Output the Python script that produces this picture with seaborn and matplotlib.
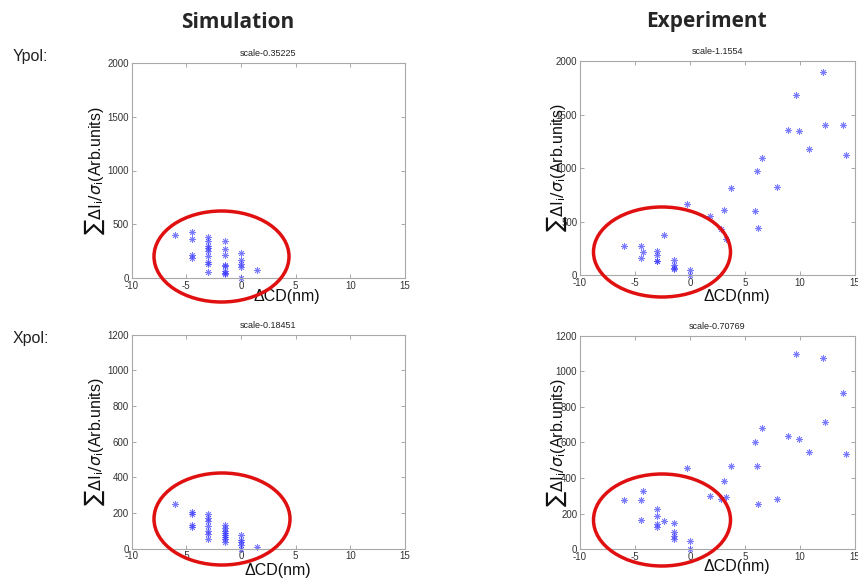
import matplotlib
matplotlib.use("Agg")
import matplotlib.pyplot as plt
from matplotlib.patches import Ellipse
import seaborn as sns

# ---------------- data ----------------
x_ticks = [-10, -5, 0, 5, 10, 15]
y_ticks_ypol = [0, 500, 1000, 1500, 2000]
y_ticks_xpol = [0, 200, 400, 600, 800, 1000, 1200]

sim_ypol_x = [-6,
              -4.5, -4.5, -4.5, -4.5,
              -3, -3, -3, -3, -3, -3, -3, -3, -3,
              -1.5, -1.5, -1.5, -1.5, -1.5, -1.5, -1.5, -1.5,
              0, 0, 0, 0, 0,
              1.5]
sim_ypol_y = [400,
              430, 365, 210, 185,
              385, 340, 300, 280, 250, 205, 150, 130, 60,
              345, 270, 215, 120, 110, 65, 50, 40,
              230, 165, 130, 100, 0,
              70]

sim_xpol_x = [-6,
              -4.5, -4.5, -4.5, -4.5,
              -3, -3, -3, -3, -3, -3, -3,
              -1.5, -1.5, -1.5, -1.5, -1.5, -1.5, -1.5, -1.5,
              0, 0, 0, 0, 0,
              1.5]
sim_xpol_y = [250,
              205, 195, 135, 120,
              195, 170, 155, 125, 100, 80, 55,
              135, 115, 100, 90, 75, 65, 55, 40,
              75, 50, 35, 20, 0,
              10]

exp_x = [-6.0, -4.5, -4.25, -4.5, -2.4,
         -3, -3, -3, -3,
         -1.5, -1.5, -1.5, -1.5,
         0, 0,
         -0.25, 1.8, 2.8, 3.1, 3.3, 3.7,
         5.95, 6.05, 6.2, 6.55,
         7.9, 8.9, 9.65, 9.9, 10.8,
         12.05, 12.25, 13.9, 14.15]
exp_ypol_y = [277, 277, 215, 165, 379,
              230, 187, 134, 130,
              146, 93, 72, 62,
              50, 0,
              669, 553, 429, 613, 339, 818,
              603, 977, 445, 1098,
              827, 1359, 1679, 1350, 1176,
              1897, 1403, 1400, 1120]
exp_xpol_y = [275, 279, 326, 165, 161,
              226, 187, 142, 127,
              146, 97, 75, 60,
              49, 0,
              455, 301, 281, 384, 296, 468,
              605, 468, 255, 683,
              281, 636, 1097, 618, 547,
              1076, 713, 876, 535]

scale_titles = ["scale-0.35225", "scale-1.1554", "scale-0.18451", "scale-0.70769"]
col_titles = ["Simulation", "Experiment"]
row_titles = ["Ypol:", "Xpol:"]
x_label = "ΔCD(nm)"
y_label = r"$\sum\Delta\mathrm{I}_\mathrm{i}/\sigma_\mathrm{i}$(Arb.units)"

# ---------------- figure ----------------
sns.set_theme(style="white")
plt.rcParams["font.family"] = ["Liberation Sans", "DejaVu Sans"]
plt.rcParams["axes.unicode_minus"] = False

W, H = 858, 578
fig = plt.figure(figsize=(W / 100, H / 100), dpi=100)

def px_axes(left, top, right, bottom):
    return fig.add_axes([left / W, 1 - bottom / H, (right - left) / W, (bottom - top) / H])

panels = [
    dict(box=(131.7, 63, 405, 278), x=sim_ypol_x, y=sim_ypol_y, ylim=2000, yt=y_ticks_ypol,
         title=scale_titles[0], xlab=(0.568, -0.05), ylab=(-0.092, 0.5),
         ell=(221.5, 256.5, 135, 91)),
    dict(box=(580, 61, 855, 275.3), x=exp_x, y=exp_ypol_y, ylim=2000, yt=y_ticks_ypol,
         title=scale_titles[1], xlab=(0.571, -0.065), ylab=(-0.04, 0.5),
         ell=(662, 252, 137, 90)),
    dict(box=(131.7, 334.7, 405, 548.7), x=sim_xpol_x, y=sim_xpol_y, ylim=1200, yt=y_ticks_xpol,
         title=scale_titles[2], xlab=(0.535, -0.065), ylab=(-0.092, 0.5),
         ell=(222, 519, 136, 92)),
    dict(box=(580, 335.7, 855, 549.3), x=exp_x, y=exp_xpol_y, ylim=1200, yt=y_ticks_xpol,
         title=scale_titles[3], xlab=(0.571, -0.045), ylab=(-0.04, 0.5),
         ell=(662, 520, 137, 92)),
]

marker = (8, 2, 0)
for p in panels:
    l, t, r, b = p["box"]
    ax = px_axes(l, t, r, b)
    sns.scatterplot(x=p["x"], y=p["y"], ax=ax, marker=marker, color="#3535ff",
                    s=20, linewidth=0.6, alpha=0.65, clip_on=False, legend=False)
    ax.set_xlim(-10, 15)
    ax.set_ylim(0, p["ylim"])
    ax.set_xticks(x_ticks)
    ax.set_yticks(p["yt"])
    ax.tick_params(direction="in", length=3, width=0.6, color="#999999",
                   labelsize=7, labelcolor="#333333", pad=2,
                   top=True, right=True, bottom=True, left=True)
    for s in ax.spines.values():
        s.set_color("#a8a8a8")
        s.set_linewidth(0.8)
    ax.set_title(p["title"], fontsize=6.5, color="#222222", pad=5)
    ax.set_xlabel(x_label, fontsize=11.5, color="#111111")
    ax.xaxis.set_label_coords(*p["xlab"])
    ax.set_ylabel(y_label, fontsize=11.5, color="#111111")
    ax.yaxis.set_label_coords(*p["ylab"])
    cx, cy, ew, eh = p["ell"]
    fig.add_artist(Ellipse((cx / W, 1 - cy / H), ew / W, eh / H,
                           transform=fig.transFigure, fill=False,
                           edgecolor="#e01010", linewidth=2.5, zorder=5))

fig.text(238 / W, 1 - 22 / H, col_titles[0], ha="center", va="center",
         fontsize=15, fontweight="bold", family=["Open Sans", "DejaVu Sans"])
fig.text(706 / W, 1 - 22 / H, col_titles[1], ha="center", va="center",
         fontsize=15, fontweight="bold", family=["Open Sans", "DejaVu Sans"])
fig.text(13 / W, 1 - 57 / H, row_titles[0], ha="left", va="center", fontsize=11.5, color="#222222")
fig.text(13 / W, 1 - 339 / H, row_titles[1], ha="left", va="center", fontsize=11.5, color="#222222")

fig.savefig("out.png", dpi=100)
